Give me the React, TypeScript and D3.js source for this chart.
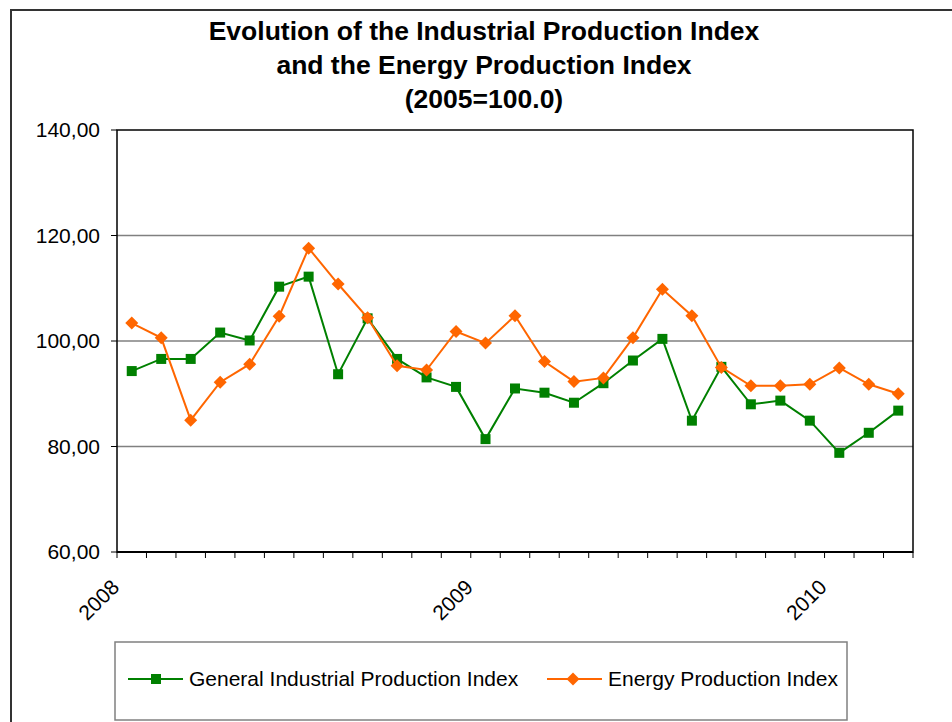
import * as d3 from "d3";

// Jan 2008 .. Mar 2010, monthly
const months = d3.range(27).map((i) => i);
const industrial = [
  94.3, 96.6, 96.6, 101.6, 100.1, 110.3, 112.2, 93.7, 104.3, 96.6, 93.1, 91.3,
  81.4, 91.0, 90.2, 88.3, 92.0, 96.3, 100.4, 84.9, 95.1, 88.0, 88.7, 84.9,
  78.8, 82.6, 86.8,
];
const energy = [
  103.4, 100.6, 85.0, 92.2, 95.6, 104.7, 117.6, 110.8, 104.4, 95.3, 94.5, 101.8,
  99.6, 104.8, 96.1, 92.3, 93.0, 100.6, 109.8, 104.8, 95.0, 91.5, 91.5, 91.8,
  94.9, 91.8, 90.0,
];
const yearLabels = [
  { index: 0, label: "2008" },
  { index: 12, label: "2009" },
  { index: 24, label: "2010" },
];
const yTicks = [60, 80, 100, 120, 140];
const titleLines = [
  "Evolution of the Industrial Production Index",
  "and the Energy Production Index",
  "(2005=100.0)",
];

const GREEN = "#008000";
const ORANGE = "#FF6600";
const FONT = "'Liberation Sans', Arial, sans-serif";

const App = () => {
  const left = 117;
  const right = 913;
  const top = 130;
  const bottom = 552;

  const x = d3.scaleBand<number>().domain(months).range([left, right]);
  const y = d3.scaleLinear().domain([60, 140]).range([bottom, top]);
  const cx = (i: number) => (x(i) as number) + x.bandwidth() / 2;

  const line = d3
    .line<number>()
    .x((_, i) => cx(i))
    .y((d) => y(d));

  const fmt = (v: number) => v.toFixed(2).replace(".", ",");
  const boundaries = d3.range(28).map((i) => left + i * x.bandwidth());

  const diamond = (px: number, py: number, r: number) =>
    `M${px},${py - r}L${px + r},${py}L${px},${py + r}L${px - r},${py}Z`;

  return (
    <svg
      width={952}
      height={722}
      style={{ position: "absolute", left: 0, top: 0, fontFamily: FONT }}
    >
      <rect x={0} y={0} width={952} height={722} fill="#fff" />
      {/* outer chart frame */}
      <rect x={11} y={10} width={960} height={740} fill="none" stroke="#333" strokeWidth={2} />

      {titleLines.map((t, i) => (
        <text
          key={t}
          x={484}
          y={40 + i * 34}
          textAnchor="middle"
          fontSize={26.5}
          fontWeight="bold"
        >
          {t}
        </text>
      ))}

      {/* gridlines */}
      {yTicks
        .filter((v) => v > 60 && v < 140)
        .map((v) => (
          <line key={v} x1={left} x2={right} y1={y(v)} y2={y(v)} stroke="#808080" strokeWidth={1.5} />
        ))}

      {/* plot border */}
      <rect x={left} y={top} width={right - left} height={bottom - top} fill="none" stroke="#000" strokeWidth={1.5} />

      {/* y axis ticks and labels */}
      {yTicks.map((v) => (
        <g key={v}>
          <line x1={left - 6} x2={left} y1={y(v)} y2={y(v)} stroke="#000" strokeWidth={1} />
          <text x={100} y={y(v)} dy="0.35em" textAnchor="end" fontSize={21}>
            {fmt(v)}
          </text>
        </g>
      ))}

      {/* x axis ticks */}
      {boundaries.map((bx, i) => (
        <line key={i} x1={bx} x2={bx} y1={bottom} y2={bottom + 6} stroke="#000" strokeWidth={1} />
      ))}
      <line x1={left} x2={right} y1={bottom} y2={bottom} stroke="#000" strokeWidth={2} />
      {yearLabels.map((d) => {
        const bx = left + d.index * x.bandwidth() - 7;
        return (
          <text
            key={d.label}
            transform={`translate(${bx},${578}) rotate(-45)`}
            textAnchor="end"
            dy="0.7em"
            fontSize={21}
          >
            {d.label}
          </text>
        );
      })}

      {/* series */}
      <path d={line(industrial) || ""} fill="none" stroke={GREEN} strokeWidth={2} />
      {industrial.map((v, i) => (
        <rect key={i} x={cx(i) - 5} y={y(v) - 5} width={10} height={10} fill={GREEN} />
      ))}
      <path d={line(energy) || ""} fill="none" stroke={ORANGE} strokeWidth={2} />
      {energy.map((v, i) => (
        <path key={i} d={diamond(cx(i), y(v), 6.5)} fill={ORANGE} />
      ))}

      {/* legend */}
      <rect x={115} y={642} width={732} height={78} fill="#fff" stroke="#808080" strokeWidth={1.5} />
      <line x1={128} x2={183} y1={679} y2={679} stroke={GREEN} strokeWidth={2} />
      <rect x={151} y={674} width={10} height={10} fill={GREEN} />
      <text x={189} y={686} fontSize={21}>
        General Industrial Production Index
      </text>
      <line x1={547} x2={602} y1={679} y2={679} stroke={ORANGE} strokeWidth={2} />
      <path d={diamond(573, 679, 6.5)} fill={ORANGE} />
      <text x={608} y={686} fontSize={21}>
        Energy Production Index
      </text>
    </svg>
  );
};

export default App;
